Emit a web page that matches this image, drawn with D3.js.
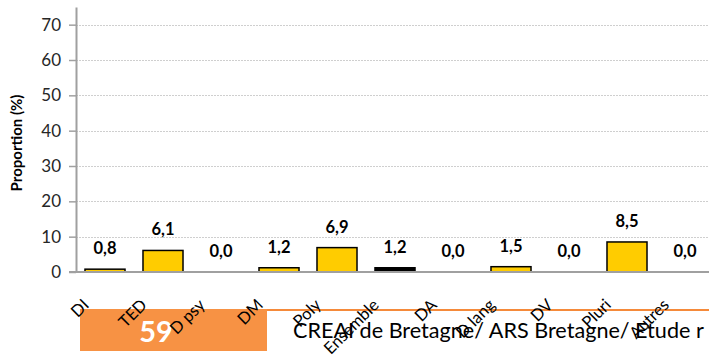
<!DOCTYPE html>
<html>
<head>
<meta charset="utf-8">
<script src="https://cdn.jsdelivr.net/npm/d3@7"></script>
<style>
  html, body { margin: 0; padding: 0; background: #fff; }
  svg { display: block; }
</style>
</head>
<body>
<svg id="chart" width="709" height="359"></svg>
<script>
const categories = ["DI", "TED", "D psy", "DM", "Poly", "Ensemble", "DA", "D lang", "DV", "Pluri", "Autres"];
const values = [0.8, 6.1, 0.0, 1.2, 6.9, 1.2, 0.0, 1.5, 0.0, 8.5, 0.0];
const highlight = ["Ensemble"];
const yTicks = [0, 10, 20, 30, 40, 50, 60, 70];
const yTitle = "Proportion (%)";
const bannerNumber = "59";
const bannerText = "CREAI de Bretagne/ ARS Bretagne/ Etude r";

(function () {
const font = "Lato, Calibri, 'Noto Sans', sans-serif";
const svg = d3.select("#chart");
const W = 709;
const mLeft = 76, mBottom = 272, mTop = 7;

const x = d3.scaleBand().domain(categories)
  .range([mLeft, mLeft + categories.length * 58])
  .paddingInner(0.31).paddingOuter(0.155);
const y = d3.scaleLinear().domain([0, 75]).range([mBottom, mTop]);

// grid
svg.append("g").selectAll("line").data(yTicks.filter(d => d > 0)).join("line")
  .attr("x1", mLeft).attr("x2", W)
  .attr("y1", d => Math.round(y(d)) + 0.5).attr("y2", d => Math.round(y(d)) + 0.5)
  .attr("stroke", "#cfcfcf").attr("stroke-width", 1).attr("stroke-dasharray", "2,1");

// banner
svg.append("rect").attr("x", 80).attr("y", 309).attr("width", 187).attr("height", 42).attr("fill", "#F79244");
svg.append("line").attr("x1", 267).attr("x2", W).attr("y1", 310).attr("y2", 310)
  .attr("stroke", "#F58A3A").attr("stroke-width", 2);
svg.append("text").attr("x", 156).attr("y", 342).attr("text-anchor", "middle")
  .attr("font-family", font).attr("font-weight", "bold").attr("font-size", 29)
  .attr("fill", "#fff").text(bannerNumber);
svg.append("text").attr("x", 293).attr("y", 338).attr("font-family", font)
  .attr("font-size", 21.6).attr("fill", "#000").text(bannerText);

// bars
svg.append("g").selectAll("rect").data(categories).join("rect")
  .attr("x", d => x(d)).attr("width", x.bandwidth())
  .attr("y", (d, i) => y(values[i])).attr("height", (d, i) => y(0) - y(values[i]))
  .attr("fill", d => highlight.includes(d) ? "#000" : "#FFCC00")
  .attr("stroke", "#000").attr("stroke-width", 1.5);

// x axis
const xAxis = svg.append("g").attr("transform", `translate(0,${mBottom})`)
  .call(d3.axisBottom(x).tickSize(0));
xAxis.select(".domain").attr("stroke", "#a0a0a0").attr("stroke-width", 2)
  .attr("d", `M${mLeft - 7},0H${W}`);
xAxis.selectAll("text")
  .attr("x", 0).attr("y", 0).attr("dy", 0)
  .attr("text-anchor", "end")
  .attr("transform", "translate(-15,34) rotate(-45)")
  .attr("font-family", font).attr("font-size", 16.5).attr("fill", "#000");

// y axis
const yAxis = svg.append("g").attr("transform", `translate(${mLeft},0)`)
  .call(d3.axisLeft(y).tickValues(yTicks).tickSize(7).tickSizeOuter(0).tickPadding(8));
yAxis.select(".domain").attr("stroke", "#a0a0a0").attr("stroke-width", 2);
yAxis.selectAll(".tick line").attr("stroke", "#a0a0a0").attr("stroke-width", 1.5);
yAxis.selectAll("text").attr("font-family", font).attr("font-size", 17).attr("fill", "#262626");

// y title
svg.append("text").attr("transform", "translate(22,143) rotate(-90)")
  .attr("text-anchor", "middle").attr("font-family", font).attr("font-weight", "bold")
  .attr("font-size", 15).attr("fill", "#000").text(yTitle);

// value labels
svg.append("g").selectAll("text").data(categories).join("text")
  .attr("x", d => x(d) + x.bandwidth() / 2)
  .attr("y", (d, i) => y(values[i]) - 15)
  .attr("text-anchor", "middle").attr("font-family", font).attr("font-weight", "bold")
  .attr("font-size", 16.5).attr("fill", "#000")
  .text((d, i) => values[i].toFixed(1).replace(".", ","));
})();
</script>
</body>
</html>
